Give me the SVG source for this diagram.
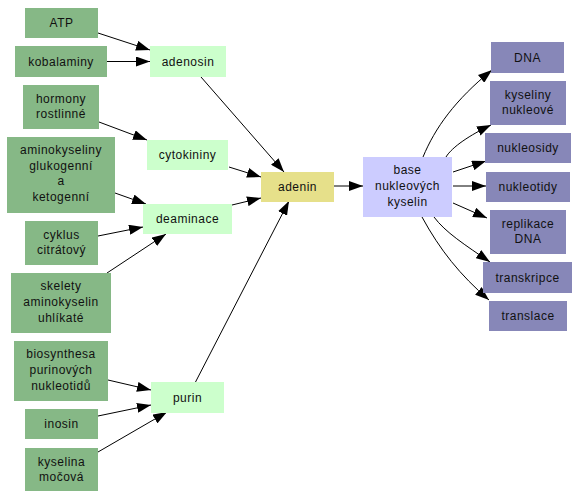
<svg xmlns="http://www.w3.org/2000/svg" width="580" height="498" viewBox="0 0 580 498">
<style>
text{font-family:"Liberation Sans",Arial,sans-serif;font-size:12px;fill:#111;text-anchor:middle;letter-spacing:0.5px}
.src rect{fill:#86b886}
.mid rect{fill:#ccffcc}
.tgt rect{fill:#8787b8}
#adenin rect{fill:#e6e08a}
#base rect{fill:#ccccff}
#edges path{fill:none;stroke:#000;stroke-width:1;marker-end:url(#ah)}
</style>
<defs>
<marker id="ah" viewBox="0 0 14 10" refX="14" refY="5" markerWidth="14" markerHeight="10" markerUnits="userSpaceOnUse" orient="auto">
<path d="M0,0 L14,5 L0,10 z" fill="#000"/>
</marker>
</defs>
<rect width="580" height="498" fill="#fff"/>
<g id="edges">
<path d="M98,33 L150,50"/>
<path d="M107,61.5 L150,61.5"/>
<path d="M99,122 L147,140"/>
<path d="M115,193 L146,204"/>
<path d="M98,236 L143,227"/>
<path d="M107,273 L166,234"/>
<path d="M201,77 L284,172"/>
<path d="M229,167 L261,177"/>
<path d="M232,205 L261,198"/>
<path d="M195,383 L289,201"/>
<path d="M108,380 L151,390"/>
<path d="M98,416 L151,405"/>
<path d="M98,452 L167,412"/>
<path d="M334,186 L363,186"/>
<path d="M423,157 C435,128 455,100 492,70"/>
<path d="M446,157 C452,147 470,135 491,125"/>
<path d="M453,172 L486,161"/>
<path d="M453,186 L486,186"/>
<path d="M453,203 L487,218"/>
<path d="M434,217 C445,232 465,245 490,262"/>
<path d="M422,217 C440,250 460,275 489,300"/>
</g>
<g id="ATP" class="src"><rect x="25" y="8" width="73" height="30"/><text x="61.5" y="27">ATP</text></g>
<g id="kobalaminy" class="src"><rect x="15" y="46" width="92" height="31"/><text x="61" y="65.5">kobalaminy</text></g>
<g id="hormony" class="src"><rect x="23" y="85" width="76" height="44"/><text x="61" y="103">hormony</text><text x="61" y="118">rostlinné</text></g>
<g id="aminokyseliny" class="src"><rect x="7" y="137" width="108" height="76"/><text x="61" y="154">aminokyseliny</text><text x="61" y="169.5">glukogenní</text><text x="61" y="185">a</text><text x="61" y="200.5">ketogenní</text></g>
<g id="cyklus" class="src"><rect x="25" y="221" width="73" height="44"/><text x="61.5" y="239">cyklus</text><text x="61.5" y="254">citrátový</text></g>
<g id="skelety" class="src"><rect x="11" y="273" width="100" height="60"/><text x="61" y="290">skelety</text><text x="61" y="306">aminokyselin</text><text x="61" y="322">uhlíkaté</text></g>
<g id="biosynthesa" class="src"><rect x="14" y="341" width="94" height="60"/><text x="61" y="358">biosynthesa</text><text x="61" y="374">purinových</text><text x="61" y="390">nukleotidů</text></g>
<g id="inosin" class="src"><rect x="25" y="409" width="73" height="30"/><text x="61.5" y="428">inosin</text></g>
<g id="kyselina" class="src"><rect x="25" y="448" width="73" height="43"/><text x="61.5" y="466">kyselina</text><text x="61.5" y="481">močová</text></g>
<g id="adenosin" class="mid"><rect x="150" y="46" width="76" height="31"/><text x="188" y="65.5">adenosin</text></g>
<g id="cytokininy" class="mid"><rect x="147" y="140" width="81" height="30"/><text x="187.5" y="159">cytokininy</text></g>
<g id="deaminace" class="mid"><rect x="143" y="204" width="89" height="30"/><text x="187.5" y="223">deaminace</text></g>
<g id="purin" class="mid"><rect x="151" y="382" width="73" height="31"/><text x="187.5" y="401.5">purin</text></g>
<g id="adenin"><rect x="261" y="172" width="73" height="30"/><text x="297.5" y="191">adenin</text></g>
<g id="base"><rect x="363" y="157" width="89" height="60"/><text x="407.5" y="174">base</text><text x="407.5" y="190">nukleových</text><text x="407.5" y="206">kyselin</text></g>
<g id="DNA" class="tgt"><rect x="491" y="42" width="73" height="31"/><text x="527.5" y="61.5">DNA</text></g>
<g id="kyseliny" class="tgt"><rect x="490" y="81" width="76" height="44"/><text x="528" y="99">kyseliny</text><text x="528" y="114">nukleové</text></g>
<g id="nukleosidy" class="tgt"><rect x="485" y="133" width="86" height="30"/><text x="528" y="152">nukleosidy</text></g>
<g id="nukleotidy" class="tgt"><rect x="486" y="172" width="84" height="30"/><text x="528" y="191">nukleotidy</text></g>
<g id="replikace" class="tgt"><rect x="490" y="210" width="76" height="44"/><text x="528" y="228">replikace</text><text x="528" y="243">DNA</text></g>
<g id="transkripce" class="tgt"><rect x="483" y="262" width="89" height="31"/><text x="527.5" y="281.5">transkripce</text></g>
<g id="translace" class="tgt"><rect x="489" y="301" width="78" height="30"/><text x="528" y="320">translace</text></g>
</svg>
